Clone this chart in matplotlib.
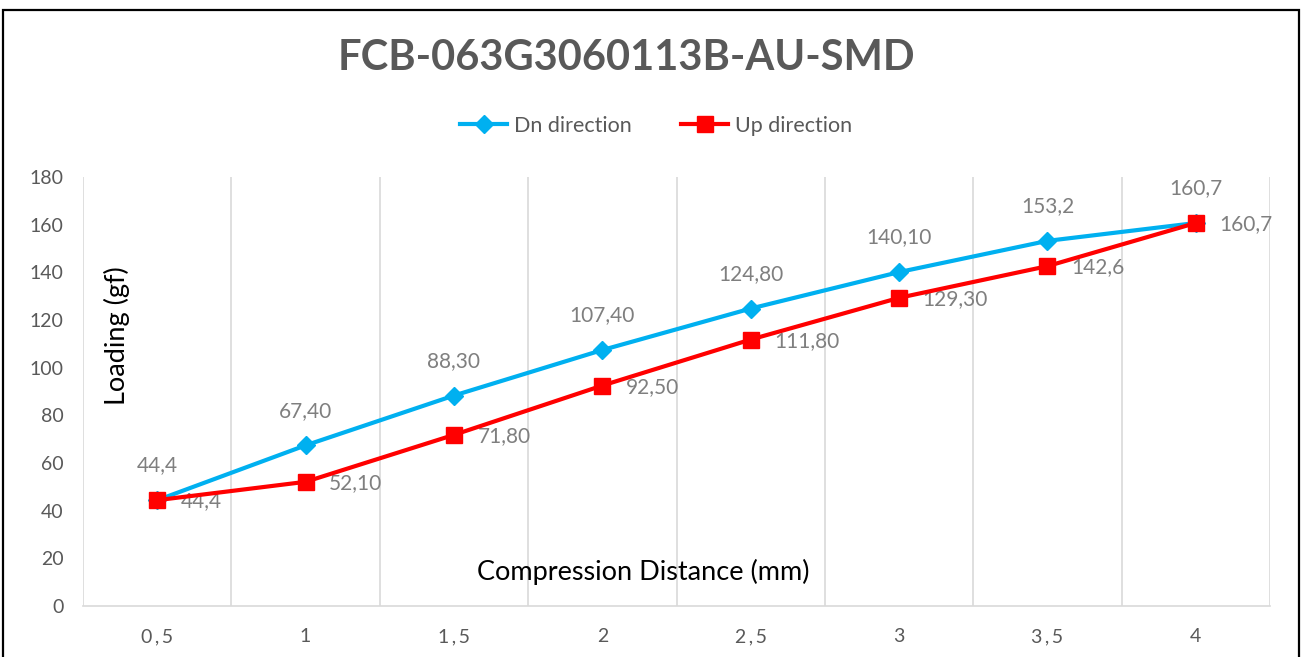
import matplotlib
matplotlib.use("Agg")
import matplotlib.pyplot as plt
from matplotlib.patches import Rectangle
from matplotlib.lines import Line2D

categories = ["0\u2009,\u20095", "1", "1\u2009,\u20095", "2", "2\u2009,\u20095", "3", "3\u2009,\u20095", "4"]
dn_values = [44.4, 67.4, 88.3, 107.4, 124.8, 140.1, 153.2, 160.7]
up_values = [44.4, 52.1, 71.8, 92.5, 111.8, 129.3, 142.6, 160.7]
dn_labels = ["44,4", "67,40", "88,30", "107,40", "124,80", "140,10", "153,2", "160,7"]
up_labels = ["44,4", "52,10", "71,80", "92,50", "111,80", "129,30", "142,6", "160,7"]
y_ticks = [0, 20, 40, 60, 80, 100, 120, 140, 160, 180]

FAM = ["Lato", "DejaVu Sans"]
plt.rcParams['font.family'] = FAM
GREY = "#595959"
LABEL_GREY = "#7F7F7F"
BLUE = "#00B0F0"
RED = "#FF0000"

fig = plt.figure(figsize=(13.04, 6.57), dpi=100)
ax = fig.add_axes([83/1304, 1 - 606/657, (1270 - 83)/1304, (606 - 177)/657])

x = list(range(len(categories)))
ax.plot(x, dn_values, color=BLUE, lw=3, marker="D", ms=9, mec=BLUE, mfc=BLUE, zorder=3)
ax.plot(x, up_values, color=RED, lw=3, marker="s", ms=12, mec=RED, mfc=RED, zorder=4)

for xi, v, lab in zip(x, dn_values, dn_labels):
    ax.annotate(lab, (xi, v), xytext=(0, 25), textcoords="offset points",
                ha="center", va="center", fontsize=15, color=LABEL_GREY)
for xi, v, lab in zip(x, up_values, up_labels):
    ax.annotate(lab, (xi, v), xytext=(17, -1), textcoords="offset points",
                ha="left", va="center", fontsize=15, color=LABEL_GREY)

ax.set_xlim(-0.5, len(categories) - 0.5)
ax.set_ylim(0, 180)
ax.set_yticks(y_ticks)
ax.set_xticks(x)
ax.set_xticklabels(categories)
ax.tick_params(axis="both", length=0, labelsize=14, labelcolor=GREY)
ax.tick_params(axis="x", pad=16)
ax.tick_params(axis="y", pad=14)

# vertical gridlines at category boundaries
for b in [i - 0.5 for i in range(len(categories) + 1)]:
    ax.axvline(b, color="#D9D9D9", lw=1.2, zorder=0)
for s in ["top", "right", "left"]:
    ax.spines[s].set_visible(False)
ax.spines["bottom"].set_color("#D9D9D9")
ax.spines["bottom"].set_linewidth(1.2)

# axis titles placed inside plot area
fig.text(117/1304, 1 - 336/657, "Loading (gf)", rotation=90, ha="center", va="center",
         fontsize=19.5, color="black")
fig.text(643/1304, 1 - 572/657, "Compression Distance (mm)", ha="center", va="center",
         fontsize=19.5, color="black")

# title
fig.text(626/1304, 1 - 58/657, "FCB-063G3060113B-AU-SMD", ha="center", va="center",
         fontsize=30, fontweight="bold", color=GREY)

# legend
handles = [Line2D([], [], color=BLUE, lw=3, marker="D", ms=9),
           Line2D([], [], color=RED, lw=3, marker="s", ms=12)]
fig.legend(handles, ["Dn direction", "Up direction"], loc="center",
           bbox_to_anchor=(656/1304, 1 - 126/657), ncol=2, frameon=False,
           fontsize=15.5, labelcolor=GREY, handlelength=2.2, handletextpad=0.3,
           columnspacing=2.3)

# outer border
fig.patches.append(Rectangle((3/1304, -0.05), (1299 - 3)/1304, 1.05 - 10/657,
                             transform=fig.transFigure, fill=False, ec="black", lw=1.6))

fig.savefig("out.png", dpi=100)
